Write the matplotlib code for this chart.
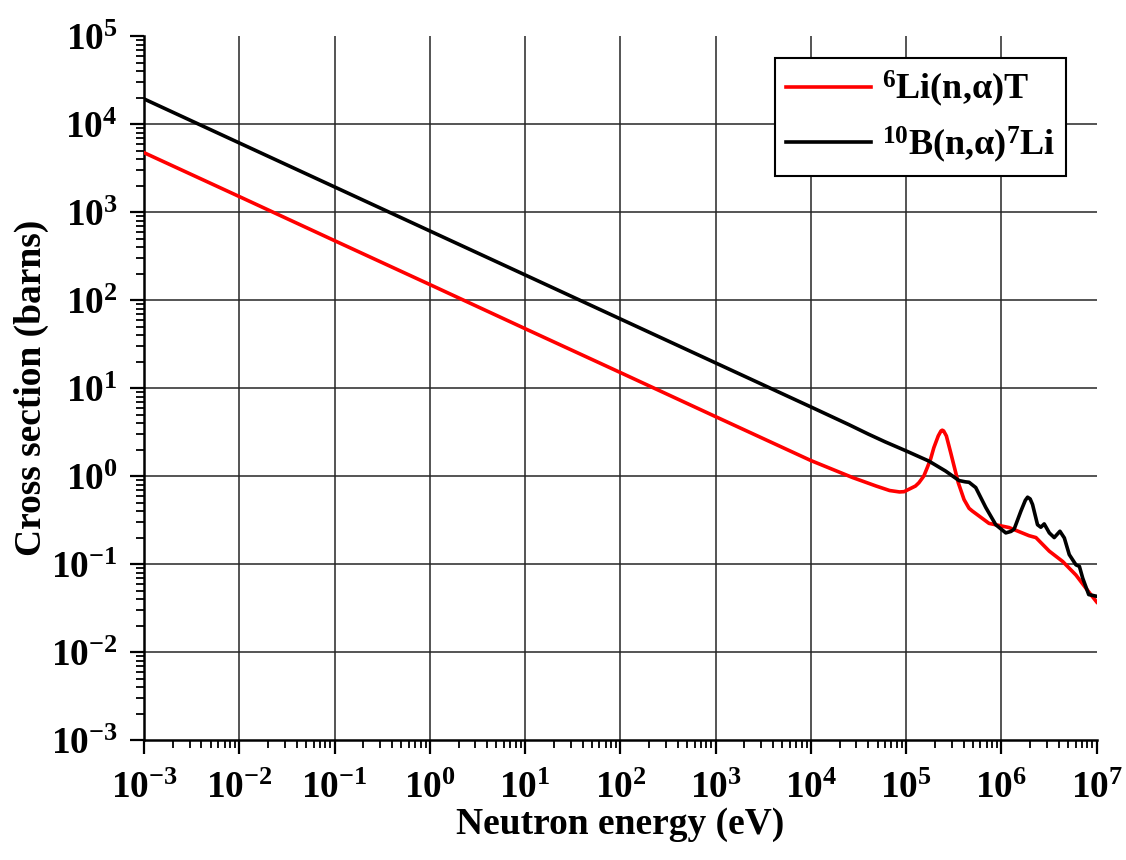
import numpy as np
import matplotlib
matplotlib.use("Agg")
import matplotlib.pyplot as plt
from matplotlib.ticker import LogLocator, NullFormatter

# 6Li(n,alpha)T cross section (barns) vs neutron energy (eV)
E_LI = [1e-3, 1e-2, 1e-1, 1, 10, 100, 1e3, 1e4, 2.75e4, 4.84e4, 6.7e4, 8.5e4,
        9.5e4, 1.25e5, 1.36e5, 1.53e5, 1.66e5, 1.80e5, 1.95e5, 2.17e5, 2.32e5,
        2.39e5, 2.47e5, 2.64e5, 2.93e5, 3.18e5, 3.52e5, 4.05e5, 4.57e5, 4.95e5,
        7.4e5, 1.2e6, 1.95e6, 2.3e6, 3.18e6, 4.39e6, 6.05e6, 8.4e6, 1e7]
XS_LI = [4730, 1500, 473, 150, 47.3, 15.0, 4.73, 1.50, 0.96, 0.77, 0.685, 0.66,
         0.665, 0.77, 0.84, 1.0, 1.24, 1.55, 2.1, 2.86, 3.26,
         3.32, 3.26, 2.86, 1.85, 1.30, 0.84, 0.54, 0.43, 0.40,
         0.29, 0.26, 0.21, 0.20, 0.14, 0.107, 0.075, 0.047, 0.037]

# 10B(n,alpha)7Li
E_B = [1e-3, 1e-2, 1e-1, 1, 10, 100, 1e3, 1e4, 2.49e4, 4.0e4, 6.0e4, 1e5,
       1.73e5, 2.59e5, 3.58e5, 4.17e5, 4.57e5, 5.37e5, 6.84e5, 8.71e5, 1.11e6,
       1.26e6, 1.36e6, 1.6e6, 1.78e6, 1.88e6, 2.0e6, 2.12e6, 2.39e6, 2.59e6,
       2.81e6, 3.18e6, 3.58e6, 4.11e6, 4.57e6, 5.15e6, 6.05e6, 6.58e6, 7.13e6,
       8.24e6, 1e7]
XS_B = [19300, 6100, 1930, 610, 193, 61, 19.3, 6.1, 3.85, 3.0, 2.45, 1.93,
        1.48, 1.14, 0.89, 0.86, 0.85, 0.74, 0.44, 0.28, 0.226,
        0.235, 0.25, 0.40, 0.53, 0.575, 0.55, 0.475, 0.28, 0.262,
        0.286, 0.226, 0.20, 0.236, 0.198, 0.128, 0.098, 0.094, 0.069,
        0.045, 0.043]

LABEL_LI = r"$\mathdefault{^{6}}$Li(n,α)T"
LABEL_B = r"$\mathdefault{^{10}}$B(n,α)$\mathdefault{^{7}}$Li"

plt.rcParams["font.family"] = ["Liberation Serif", "DejaVu Serif"]
plt.rcParams["font.weight"] = "bold"
plt.rcParams["mathtext.fontset"] = "custom"
plt.rcParams["mathtext.rm"] = "Liberation Serif:bold"
plt.rcParams["mathtext.it"] = "Liberation Serif:bold"
plt.rcParams["mathtext.bf"] = "Liberation Serif:bold"

fig = plt.figure(figsize=(11.26, 8.6), dpi=100)
ax = fig.add_axes([0.128, 0.1395, 0.846, 0.8185])

# decade grid, drawn by hand so that no line sits on the open top/right edges
for e in range(-2, 5):
    ax.axhline(10.0 ** e, color="0.15", linewidth=1.1, zorder=1)
for e in range(-2, 7):
    ax.axvline(10.0 ** e, color="0.15", linewidth=1.1, zorder=1)

ax.loglog(E_LI, XS_LI, color="#ff0000", linewidth=2.6, label=LABEL_LI, zorder=3)
ax.loglog(E_B, XS_B, color="black", linewidth=2.6, label=LABEL_B, zorder=4)

ax.set_xlim(1e-3, 1e7)
ax.set_ylim(1e-3, 1e5)

for axis in (ax.xaxis, ax.yaxis):
    axis.set_major_locator(LogLocator(base=10, numticks=30))
    axis.set_minor_locator(LogLocator(base=10, subs=np.arange(2, 10), numticks=300))
    axis.set_minor_formatter(NullFormatter())

ax.spines["top"].set_visible(False)
ax.spines["right"].set_visible(False)
for s in ("left", "bottom"):
    ax.spines[s].set_linewidth(1.8)

ax.tick_params(which="major", direction="out", length=10, width=1.6,
               labelsize=27)
ax.tick_params(axis="x", which="major", pad=12)
ax.tick_params(axis="y", which="major", pad=9)
ax.tick_params(which="minor", direction="out", length=5.5, width=1.3)

ax.set_xlabel("Neutron energy (eV)", fontsize=27, fontweight="bold", labelpad=1)
ax.set_ylabel("Cross section (barns)", fontsize=27, fontweight="bold", labelpad=1)

leg = ax.legend(loc="upper right", bbox_to_anchor=(0.9675, 0.969),
                borderaxespad=0, fontsize=26, fancybox=False, framealpha=1,
                edgecolor="black", handlelength=2.35, handletextpad=0.3,
                labelspacing=0.42, borderpad=0.3)
leg.get_frame().set_linewidth(1.5)

fig.savefig("out.png", dpi=100)
